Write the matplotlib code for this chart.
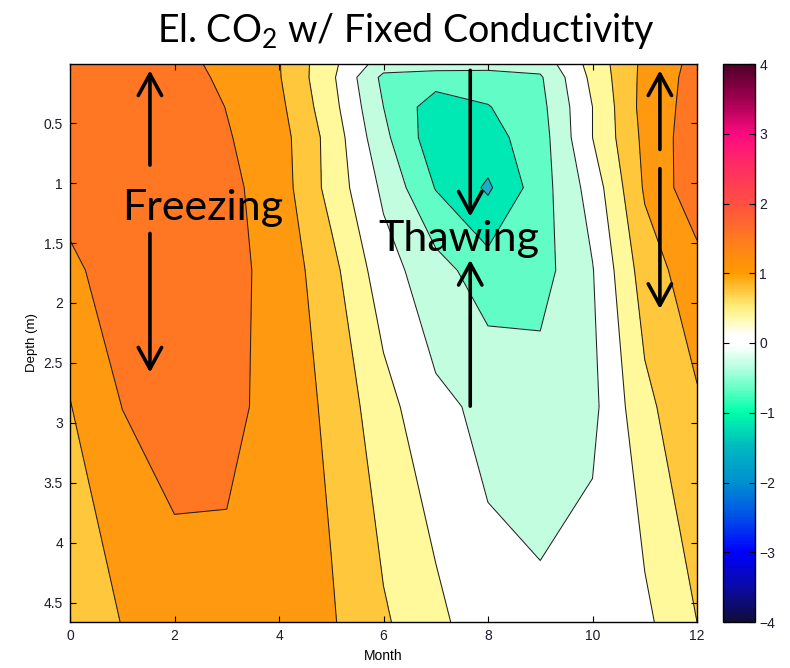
import numpy as np
import matplotlib
matplotlib.use('Agg')
import matplotlib.pyplot as plt
from matplotlib.colors import LinearSegmentedColormap, Normalize
from matplotlib.cm import ScalarMappable

# gitter: monat x tiefe (CLM-knoten)
months = [0, 1, 2, 3, 4, 5, 6, 7, 8, 9, 10, 11, 12]
depths = [0.0071, 0.1189, 0.3661, 0.6198, 1.0380, 1.7276, 2.8646, 4.66]

# werte pro tiefe, von oben nach unten
row_0007 = [1.62, 1.72, 1.62, 1.40, 1.12, 0.40, -0.30, -0.30, -0.32, -0.35, 0.45, 1.20, 1.62]
row_0119 = [1.65, 1.75, 1.70, 1.41, 1.13, 0.38, -0.60, -0.70, -0.70, -0.55, 0.40, 1.22, 1.65]
row_0366 = [1.67, 1.80, 1.75, 1.49, 1.20, 0.45, -0.50, -1.12, -0.92, -0.62, 0.30, 1.25, 1.67]
row_0620 = [1.75, 1.85, 1.80, 1.53, 1.27, 0.55, -0.40, -1.15, -1.05, -0.68, 0.30, 1.20, 1.75]
row_1038 = [1.78, 1.85, 1.80, 1.60, 1.30, 0.56, -0.18, -0.92, -1.36, -0.68, 0.07, 1.15, 1.78]
row_1728 = [1.34, 1.88, 1.85, 1.62, 1.37, 0.83, 0.07, -0.345, -0.72, -0.66, -0.12, 0.90, 1.34]
row_2865 = [1.085, 1.505, 1.75, 1.60, 1.37, 1.01, 0.45, -0.02, -0.18, -0.30, -0.20, 0.595, 1.05]
row_4660 = [0.75, 1.115, 1.25, 1.39, 1.30, 1.14, 0.75, 0.42, 0.0, -0.02, 0.10, 0.21, 0.70]

levels = [-1.7, -1.3, -0.9, -0.5, -0.1, 0.3, 0.7, 1.1, 1.5, 1.9]
cbar_ticks = [-4, -3, -2, -1, 0, 1, 2, 3, 4]

# farben der flächen (band zwischen zwei levels)
band_colors = ['#22aacc', '#00e8b4', '#62fdc6', '#c2fde0', '#ffffff',
               '#fff99c', '#ffc83c', '#ff9a10', '#ff7722']

# colorbar-verlauf wie im original
cmap_pts = [(-4.0, '#100c3c'), (-3.5, '#0a0aa8'), (-3.0, '#0000ff'),
            (-2.5, '#0050e8'), (-2.0, '#0090d0'), (-1.5, '#00b8c0'),
            (-1.0, '#00ffaa'), (-0.5, '#90ffd4'), (-0.1, '#f2fff8'),
            (0.0, '#ffffff'), (0.1, '#ffffff'), (0.3, '#fffbc0'),
            (0.5, '#fff080'), (0.75, '#ffc840'), (1.0, '#ff9c00'),
            (1.5, '#ff7a20'), (2.0, '#ff5040'), (2.5, '#ff3060'),
            (3.0, '#ff0a80'), (3.5, '#a00050'), (4.0, '#500028')]
cmap = LinearSegmentedColormap.from_list(
    'co2', [((v + 4) / 8, c) for v, c in cmap_pts], N=256)

Z = np.array([row_0007, row_0119, row_0366, row_0620,
              row_1038, row_1728, row_2865, row_4660])

plt.rcParams['font.family'] = ['Liberation Sans', 'DejaVu Sans']

fig = plt.figure(figsize=(7.9, 6.68), dpi=100)
ax = fig.add_axes([70 / 790, 46 / 668, 627 / 790, 558 / 668])
cax = fig.add_axes([723 / 790, 46 / 668, 32 / 790, 558 / 668])

ax.contourf(months, depths, Z, levels=levels, colors=band_colors)
ax.contour(months, depths, Z, levels=levels, colors='#202020',
           linewidths=0.75, linestyles='solid')

ax.set_xlim(0, 12)
ax.set_ylim(depths[-1], depths[0])
ax.set_xticks([0, 2, 4, 6, 8, 10, 12])
ax.set_yticks([0.5, 1, 1.5, 2, 2.5, 3, 3.5, 4, 4.5])
ax.set_yticklabels(['0.5', '1', '1.5', '2', '2.5', '3', '3.5', '4', '4.5'])
ax.tick_params(direction='in', top=True, right=True, length=4, width=0.8,
               labelsize=10, labelcolor='#1c1c2c', pad=5)
for s in ax.spines.values():
    s.set_linewidth(1.0)
ax.set_xlabel('Month', fontsize=10, labelpad=4)
ax.set_ylabel('Depth (m)', fontsize=9.5, labelpad=4)

cb = fig.colorbar(ScalarMappable(norm=Normalize(-4, 4), cmap=cmap), cax=cax)
cb.set_ticks(cbar_ticks)
cax.tick_params(direction='in', left=True, right=True, length=4, width=0.8,
                labelsize=10, labelcolor='#1c1c2c', pad=3)
cb.outline.set_linewidth(1.0)

# beschriftung + pfeile
txt_font = ['Lato', 'DejaVu Sans']
fig.text(0.514, 0.953, r'El. CO$_\mathregular{2}$ w/ Fixed Conductivity',
         ha='center', va='center', fontsize=27, family=txt_font)
ax.text(2.53, 1.21, 'Freezing', ha='center', va='center', fontsize=31,
        family=txt_font)
ax.text(7.45, 1.47, 'Thawing', ha='center', va='center', fontsize=31,
        family=txt_font)

arrows = [
    ((1.53, 0.85), (1.53, 0.06)),
    ((1.53, 1.42), (1.53, 2.58)),
    ((7.66, 0.06), (7.66, 1.28)),
    ((7.66, 2.86), (7.66, 1.64)),
    ((11.29, 0.72), (11.29, 0.06)),
    ((11.29, 0.88), (11.29, 2.05)),
]
for start, end in arrows:
    ax.annotate('', xy=end, xytext=start,
                arrowprops=dict(arrowstyle='->,head_length=0.55,head_width=0.3',
                                lw=2.6, color='k', mutation_scale=28,
                                shrinkA=0, shrinkB=0))

plt.savefig('out.png', dpi=100)
